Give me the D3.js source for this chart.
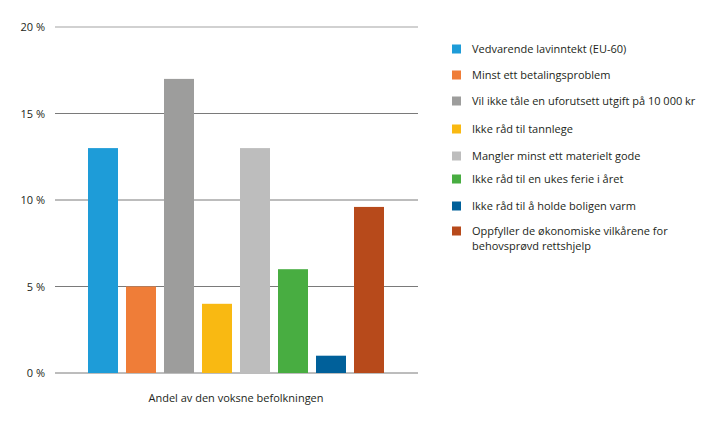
<!DOCTYPE html>
<html>
<head>
<meta charset="utf-8">
<script src="https://d3js.org/d3.v7.min.js"></script>
<style>
  body { margin: 0; background: #fff; }
  text { font-family: "Open Sans", "Noto Sans", sans-serif; fill: #231f20; }
</style>
</head>
<body>
<div id="chart"></div>
<script>
// data
var categories = [
  "Vedvarende lavinntekt (EU-60)",
  "Minst ett betalingsproblem",
  "Vil ikke tåle en uforutsett utgift på 10 000 kr",
  "Ikke råd til tannlege",
  "Mangler minst ett materielt gode",
  "Ikke råd til en ukes ferie i året",
  "Ikke råd til å holde boligen varm",
  "Oppfyller de økonomiske vilkårene for|behovsprøvd rettshjelp"
];
var values = [13, 5, 17, 4, 13, 6, 1, 9.6];
var colors = ["#1e9cd8", "#ef7d38", "#9d9d9c", "#f9b912", "#bdbdbd", "#48ad41", "#00609a", "#b74a1b"];
var yTicks = [0, 5, 10, 15, 20];
var xTitle = "Andel av den voksne befolkningen";

var W = 719, H = 425;
var svg = d3.select("#chart").append("svg").attr("width", W).attr("height", H);

var y = d3.scaleLinear().domain([0, 20]).range([373, 27]);
var x = d3.scaleBand().domain(d3.range(categories.length))
  .range([84, 388]).paddingInner(8 / 38).paddingOuter(4 / 38);

// gridlines
svg.selectAll(".grid").data(yTicks).enter().append("line")
  .attr("x1", 55).attr("x2", 418)
  .attr("y1", function(d) { return y(d); })
  .attr("y2", function(d) { return y(d); })
  .attr("stroke", function(d) { return d === 20 ? "#c2c2c2" : "#7a7a7a"; })
  .attr("stroke-width", function(d) { return d === 20 ? 1.6 : 1; });

svg.selectAll(".tick").data(yTicks).enter().append("text")
  .attr("x", 45).attr("y", function(d) { return y(d) + 4; })
  .attr("text-anchor", "end").style("font-size", "11px")
  .text(function(d) { return d + " %"; });

// bars
svg.selectAll(".bar").data(values).enter().append("rect")
  .attr("x", function(d, i) { return x(i); })
  .attr("width", x.bandwidth())
  .attr("y", function(d) { return y(d); })
  .attr("height", function(d) { return y(0) - y(d); })
  .attr("fill", function(d, i) { return colors[i]; });

// x title
svg.append("text").attr("x", 236).attr("y", 402)
  .attr("text-anchor", "middle").style("font-size", "11px").text(xTitle);

// legend
var legY = [49, 75, 101, 129, 156, 179, 206, 231];
var leg = svg.selectAll(".leg").data(categories).enter().append("g")
  .attr("transform", function(d, i) { return "translate(452," + legY[i] + ")"; });
leg.append("rect").attr("x", 0).attr("y", -4.5).attr("width", 9).attr("height", 9)
  .attr("fill", function(d, i) { return colors[i]; });
leg.append("text").attr("x", 20).attr("y", 4).style("font-size", "11px")
  .each(function(d) {
    var t = d3.select(this);
    d.split("|").forEach(function(line, j) {
      t.append("tspan").attr("x", 20).attr("dy", j === 0 ? 0 : 15).text(line);
    });
  });
</script>
</body>
</html>
